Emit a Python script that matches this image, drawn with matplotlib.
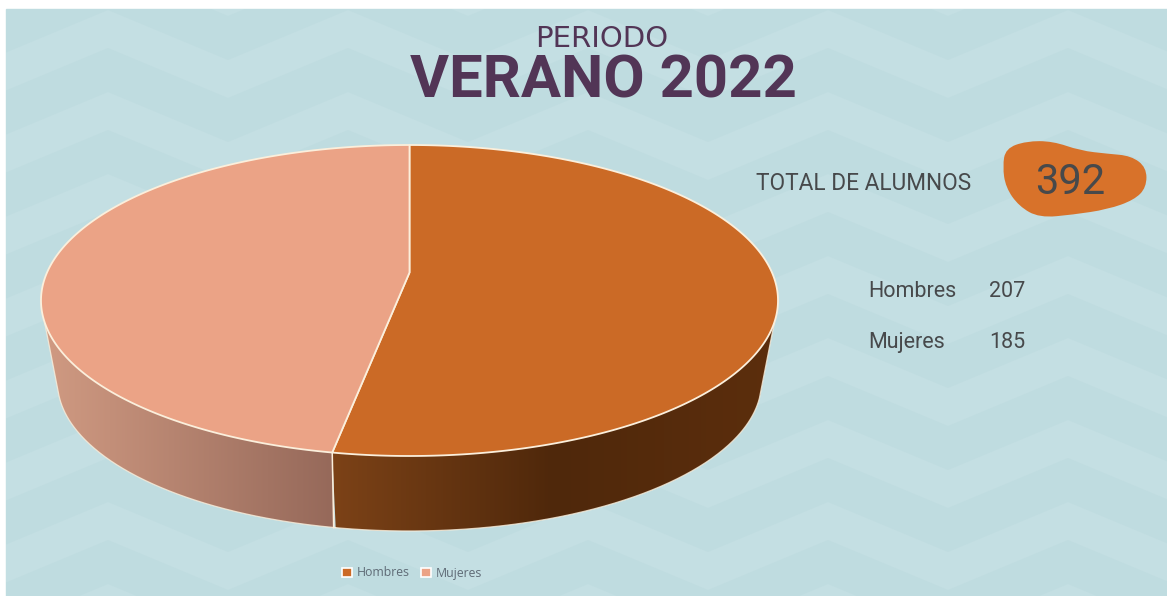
import numpy as np
import matplotlib
matplotlib.use('Agg')
import matplotlib.pyplot as plt
from matplotlib.colors import LinearSegmentedColormap
from matplotlib.patches import Patch, PathPatch, Polygon
from matplotlib.path import Path

# data
categories = ['Hombres', 'Mujeres']
alumnos = [207, 185]
total = 392
colors_top = ['#cb6a26', '#eba386']
colors_side = [['#7c4217', '#4f280b', '#5c2e0d'], ['#d09a82', '#96695a']]

W, H = 1167, 596
CX, CY, RX, RY = 409.5, 300.5, 368.5, 155.5
BX, BY, BRX, BRY = 409.5, 382.0, 352.0, 149.0
SKEW = -0.18   # the pie centre sits above the ellipse centre (perspective)
RIM = '#fbefdc'

plt.rcParams['font.family'] = ['Roboto', 'DejaVu Sans']


def project(t):
    # t: clockwise angle from 12 o'clock, gives ellipse coords with perspective
    u, v = np.sin(t), -np.cos(t)
    d = 1 + SKEW * v
    return u * np.sqrt(1 - SKEW ** 2) / d, (v + SKEW) / d


def rim(t, cx, cy, rx, ry):
    u, v = project(t)
    return cx + rx * u, cy + ry * v


def front_angle(level):
    # angle where the projected rim reaches this height inside the ellipse
    return np.arccos(-(level - SKEW) / (1 - SKEW * level))


fig = plt.figure(figsize=(W / 100, H / 100), dpi=100)
ax = fig.add_axes([0, 0, 1, 1])
ax.set_xlim(0, W)
ax.set_ylim(H, 0)
ax.axis('off')

# background with chevrons
ax.add_patch(plt.Rectangle((6, 9), W - 6, H - 9, color='#bfdce0', zorder=0))
xs = np.arange(-12, W + 240, 120.0)
wave = np.where(np.arange(len(xs)) % 2 == 0, 60.0, 10.0)
for off in np.arange(-82, H + 82, 82):
    band = ax.fill_between(xs, wave + off, wave + off + 38, color='#c4dfe3', lw=0, zorder=1)
    band.set_clip_path(Polygon([(6, 9), (W, 9), (W, H), (6, H)], transform=ax.transData))

# slice angles from the values
fracs = np.array(alumnos) / sum(alumnos)
edges = np.concatenate([[0], np.cumsum(fracs)]) * 2 * np.pi
apex = (CX, CY + SKEW * RY)

# sides of the pie, top and bottom rim leave the silhouette at different heights
top0, bot0 = front_angle(0.14), front_angle(0.07)
for i in range(2):
    t_top = np.linspace(max(edges[i], top0), min(edges[i + 1], 2 * np.pi - top0), 200)
    t_bot = np.linspace(max(edges[i], bot0), min(edges[i + 1], 2 * np.pi - bot0), 200)
    x0, y0 = rim(t_top, CX, CY, RX, RY)
    x1, y1 = rim(t_bot, BX, BY, BRX, BRY)
    poly = Polygon(np.r_[np.c_[x0, y0], np.c_[x1, y1][::-1]], closed=True,
                   transform=ax.transData, fc='none', ec='none')
    ax.add_patch(poly)
    cmap = LinearSegmentedColormap.from_list('side%d' % i, colors_side[i])
    grad = np.linspace(0, 1, 256).reshape(1, -1)
    im = ax.imshow(grad, cmap=cmap, aspect='auto', zorder=2,
                   extent=(x0.min(), x0.max(), y1.max() + 5, y0.min() - 5))
    im.set_clip_path(poly)
    # outer outline of the side
    if i == 0:
        ox, oy = np.r_[x0[0], x1], np.r_[y0[0], y1]
    else:
        ox, oy = np.r_[x1, x0[-1]], np.r_[y1, y0[-1]]
    ax.plot(ox, oy, color=RIM, lw=0.9, alpha=0.8, zorder=3)
ax.set_xlim(0, W)
ax.set_ylim(H, 0)

# edge between the two slices on the side
xe0, ye0 = rim(edges[1], CX, CY, RX, RY)
xe1, ye1 = rim(edges[1], BX, BY, BRX, BRY)
ax.plot([xe0, xe1 - 2], [ye0, ye1], color=RIM, lw=1.1, zorder=3)

# top of the pie
for i in range(2):
    t = np.linspace(edges[i], edges[i + 1], 300)
    x, y = rim(t, CX, CY, RX, RY)
    ax.add_patch(Polygon(np.r_[[apex], np.c_[x, y]], closed=True, fc=colors_top[i],
                         ec=RIM, lw=1.3, joinstyle='round', zorder=4))

# title
ax.text(602, 47, 'PERIODO', fontsize=21, color='#523556', family=['DejaVu Sans'],
        ha='center', va='baseline', zorder=6)
ax.text(603, 98, 'VERANO 2022', fontsize=43, color='#523556', fontweight='bold',
        ha='center', va='baseline', zorder=6)

# total
ink = '#47494b'
ax.text(864, 190, 'TOTAL DE ALUMNOS', fontsize=16.3, color=ink, ha='center', va='baseline', zorder=6)
blob = np.array([(1004, 167), (1007, 150), (1027, 143), (1053, 143), (1080, 152), (1107, 155),
                 (1130, 157), (1145, 168), (1145, 187), (1133, 199), (1107, 208), (1073, 213),
                 (1040, 216), (1020, 205), (1007, 187)], dtype=float)
blob = (blob - [1073, 180]) * [1.02, 1.05] + [1073, 180]
mids = (blob + np.roll(blob, -1, axis=0)) / 2
verts, codes = [mids[-1]], [Path.MOVETO]
for p, m in zip(blob, mids):
    verts += [p, m]
    codes += [Path.CURVE3, Path.CURVE3]
ax.add_patch(PathPatch(Path(verts, codes), fc='#d8722a', ec='none', zorder=5))
ax.text(1070, 194, str(total), fontsize=30, color=ink, ha='center', va='baseline', zorder=6)

# small table
for name, val, y in zip(categories, alumnos, [297, 348]):
    ax.text(868, y, name, fontsize=15.5, color=ink, ha='left', va='baseline', zorder=6)
    ax.text(989, y, str(val), fontsize=15.5, color=ink, ha='left', va='baseline', zorder=6)

# legend
handles = [Patch(fc=c, ec='white', lw=1.2) for c in colors_top]
ax.legend(handles, categories, loc='center', bbox_to_anchor=(412 / W, 1 - 573 / H), ncol=2,
          frameon=False, prop={'family': 'Open Sans', 'size': 8.8}, labelcolor='#5f6b76',
          handlelength=0.8, handleheight=0.8, handletextpad=0.4, columnspacing=0.9)

fig.savefig('out.png', dpi=100, facecolor='white')
